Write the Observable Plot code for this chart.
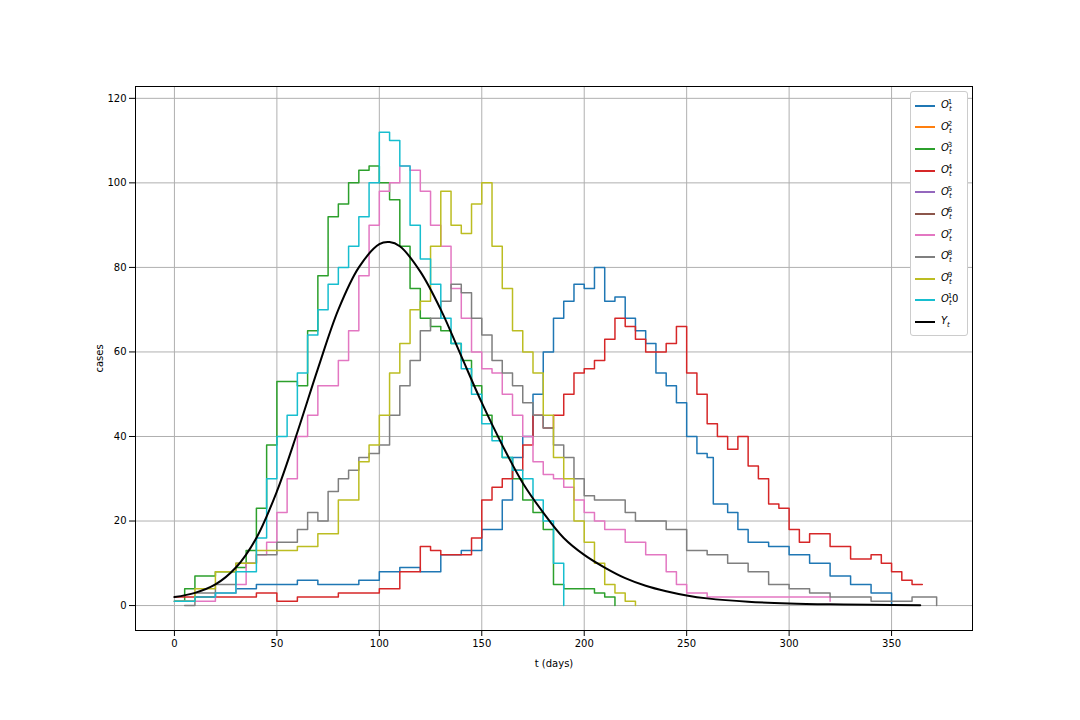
<!DOCTYPE html>
<html>
<head>
<meta charset="utf-8">
<script src="https://cdn.jsdelivr.net/npm/d3@7"></script>
<script src="https://cdn.jsdelivr.net/npm/@observablehq/plot@0.6"></script>
<style>
body { margin: 0; background: #fff; font-family: "DejaVu Sans", sans-serif; }
#wrap { position: relative; width: 1080px; height: 720px; }
#legend { position: absolute; left: 910px; top: 91px; width: 56px; padding: 3px 0 2px 0;
  background: #fff; border: 1px solid #ccc; border-radius: 3px; font-size: 10px; }
#legend .row { display: flex; align-items: center; height: 21.6px; }
#legend .sw { width: 20px; height: 2px; margin: 0 6px 0 4px; }
</style>
</head>
<body>
<div id="wrap"><div id="legend"></div></div>
<script>
// [t, cases] pairs
const o1 = [[0,1],[10,2],[20,3],[30,4],[40,5],[50,5],[60,6],[70,5],[80,5],[90,6],[100,8],[110,9],[120,8],[130,12],[140,13],[150,18],[160,25],[165,35],[170,40],[175,50],[180,60],[185,68],[190,72],[195,76],[200,75],[205,80],[210,72],[215,73],[220,68],[225,65],[230,62],[235,55],[240,52],[245,48],[250,40],[255,36],[260,35],[263,24],[270,22],[275,18],[280,15],[290,14],[300,12],[310,10],[320,7],[330,5],[340,3],[350,0]]
const o2 = []
const o3 = [[0,1],[5,4],[10,7],[20,8],[25,8],[30,9],[35,13],[40,23],[45,38],[50,53],[55,53],[60,52],[65,65],[70,78],[75,92],[80,95],[85,100],[90,103],[95,104],[100,100],[105,96],[110,85],[115,75],[120,68],[125,66],[130,65],[135,62],[140,58],[145,52],[150,45],[155,40],[160,35],[165,30],[170,25],[175,22],[180,18],[185,5],[190,4],[200,4],[205,3],[210,2],[215,0]]
const o4 = [[0,2],[20,2],[40,3],[50,1],[60,2],[70,2],[80,3],[90,3],[100,4],[110,8],[120,14],[125,13],[130,12],[140,12],[145,16],[150,25],[155,28],[160,30],[165,32],[170,38],[175,45],[180,42],[185,45],[190,50],[195,55],[200,56],[205,58],[210,63],[215,68],[220,66],[225,63],[230,60],[235,60],[240,62],[245,66],[250,55],[255,50],[260,43],[265,40],[270,37],[275,40],[280,33],[285,30],[290,24],[295,23],[300,18],[305,15],[310,17],[320,14],[330,11],[340,12],[345,10],[350,8],[355,6],[360,5],[365,5]]
const o5 = []
const o6 = []
const o7 = [[0,1],[10,1],[20,3],[30,5],[35,10],[40,12],[45,15],[50,22],[55,30],[60,40],[65,45],[70,52],[75,52],[80,58],[85,65],[90,78],[95,90],[100,98],[105,100],[110,104],[115,103],[120,98],[125,90],[130,85],[135,75],[140,68],[145,60],[150,56],[155,55],[160,50],[165,45],[170,40],[175,34],[180,31],[185,30],[190,28],[195,25],[200,22],[205,20],[210,18],[220,15],[230,12],[240,8],[245,5],[250,3],[260,2],[300,2],[320,1]]
const o8 = [[5,0],[10,3],[20,5],[30,10],[40,12],[50,15],[60,18],[65,22],[70,20],[75,27],[80,30],[85,32],[90,35],[95,36],[100,38],[105,45],[110,52],[115,58],[120,65],[125,68],[130,72],[135,76],[140,74],[145,68],[150,64],[155,58],[160,55],[165,52],[170,48],[175,45],[180,42],[185,38],[190,35],[195,30],[200,26],[205,25],[210,25],[215,25],[220,22],[225,20],[230,20],[240,18],[250,13],[260,12],[270,10],[280,8],[290,5],[300,4],[310,3],[320,2],[340,1],[360,2],[372,0]]
const o9 = [[0,1],[10,4],[20,8],[30,10],[40,13],[50,13],[60,14],[70,17],[80,25],[90,34],[95,38],[100,45],[105,55],[110,62],[115,70],[120,72],[125,85],[130,98],[135,90],[140,88],[145,95],[150,100],[155,85],[160,75],[165,65],[170,60],[175,55],[180,45],[185,35],[190,30],[195,20],[200,15],[205,10],[210,5],[215,3],[220,1],[225,0]]
const o10 = [[0,1],[10,2],[20,3],[30,8],[40,16],[45,30],[50,40],[55,45],[60,55],[65,64],[70,70],[75,76],[80,80],[85,85],[90,92],[95,100],[100,112],[105,110],[110,104],[115,90],[120,82],[125,76],[130,68],[135,62],[140,56],[145,50],[150,43],[155,39],[160,35],[165,32],[170,30],[175,25],[180,20],[185,10],[190,0]]
const yt = [[0,2],[10,3],[20,5],[30,9],[40,16],[50,27],[60,41],[70,56],[80,70],[90,80],[100,85.5],[105,86],[110,85],[120,79],[130,70],[140,59],[150,48],[160,38],[170,29],[180,22],[190,16],[200,12],[210,9],[220,6.5],[230,4.7],[240,3.4],[250,2.4],[260,1.7],[280,0.9],[300,0.5],[320,0.3],[340,0.2],[364,0.1]]

const series = [o1, o2, o3, o4, o5, o6, o7, o8, o9, o10]
const colors = ["#1f77b4","#ff7f0e","#2ca02c","#d62728","#9467bd","#8c564b","#e377c2","#7f7f7f","#bcbd22","#17becf"]
const supers = ["1","2","3","4","5","6","7","8","9","1"]

const chart = Plot.plot({
  width: 1080, height: 720,
  marginLeft: 135, marginRight: 108, marginTop: 86, marginBottom: 90,
  style: {fontFamily: "DejaVu Sans", fontSize: "10px", color: "#000"},
  x: {domain: [-19, 389.5], ticks: [0,50,100,150,200,250,300,350], label: "t (days)", labelArrow: false, labelAnchor: "center", labelOffset: 36},
  y: {domain: [-5.9, 122.8], ticks: [0,20,40,60,80,100,120], label: "cases", labelArrow: false, labelAnchor: "center", labelOffset: 40},
  marks: [
    Plot.gridX({stroke: "#b0b0b0", strokeOpacity: 1, ticks: [0,50,100,150,200,250,300,350]}),
    Plot.gridY({stroke: "#b0b0b0", strokeOpacity: 1, ticks: [0,20,40,60,80,100,120]}),
    ...series.map((s, i) => Plot.line(s, {x: d => d[0], y: d => d[1], stroke: colors[i], strokeWidth: 1.5, curve: "step-after"})),
    Plot.line(yt, {x: d => d[0], y: d => d[1], stroke: "#000", strokeWidth: 2, curve: "catmull-rom"}),
    Plot.frame({stroke: "#000"})
  ]
})
document.getElementById("wrap").prepend(chart)

const legend = d3.select("#legend")
colors.forEach((c, i) => {
  const r = legend.append("div").attr("class", "row")
  r.append("div").attr("class", "sw").style("background", c)
  r.append("span").html(`<i>O</i><sub style="font-size:7px"><i>t</i></sub><sup style="font-size:7px;margin-left:-4px">${supers[i]}</sup>${i === 9 ? "0" : ""}`)
})
const r = legend.append("div").attr("class", "row")
r.append("div").attr("class", "sw").style("background", "#000")
r.append("span").html(`<i>Y</i><sub style="font-size:7px"><i>t</i></sub>`)
</script>
</body>
</html>
